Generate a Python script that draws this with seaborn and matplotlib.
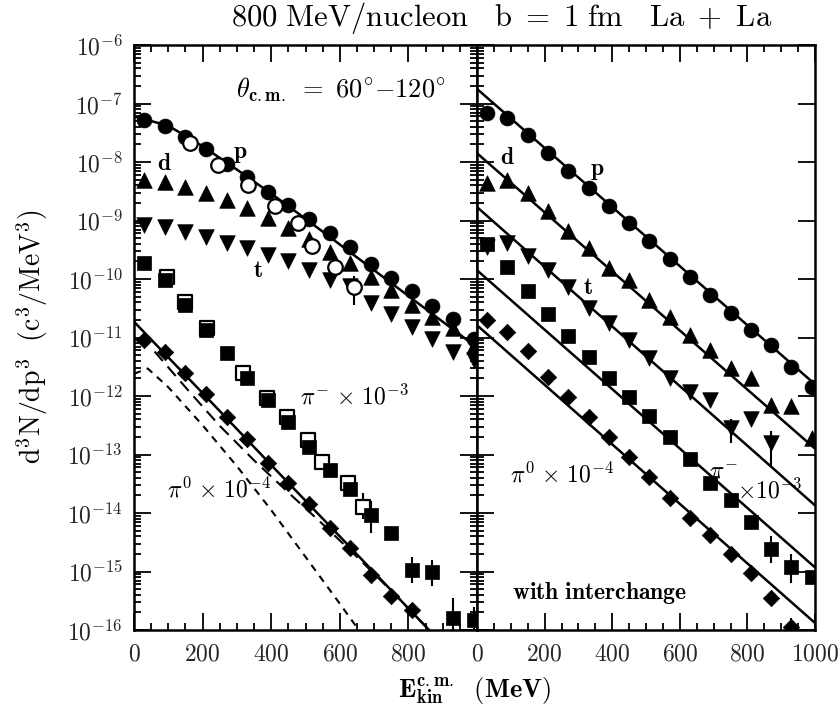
import matplotlib
matplotlib.use("Agg")
import numpy as np
import pandas as pd
import matplotlib.pyplot as plt
import seaborn as sns
from matplotlib.ticker import MultipleLocator, LogLocator, FuncFormatter, NullFormatter

# ---------------- data (log10 of d3N/dp3) ----------------
E_bins = [30, 90, 150, 210, 270, 330, 390, 450, 510, 570, 630, 690, 750, 810, 870, 930, 990]

# left panel (without interchange)
p_left = [-7.28, -7.38, -7.57, -7.78, -8.03, -8.26, -8.51, -8.74, -8.98, -9.22, -9.46, -9.74, -9.99, -10.21, -10.46, -10.69, -11.03]
d_left = [-8.31, -8.34, -8.43, -8.53, -8.65, -8.79, -8.96, -9.13, -9.31, -9.53, -9.72, -9.97, -10.19, -10.44, -10.65, -10.83, -11.15]
t_left = [-9.08, -9.11, -9.20, -9.28, -9.38, -9.47, -9.59, -9.69, -9.85, -10.02, -10.12, -10.41, -10.60, -10.82, -11.03, -11.25, -11.38]
pim_left = [-9.73, -10.02, -10.44, -10.87, -11.26, -11.69, -12.07, -12.45, -12.87, -13.26, -13.59, -14.03, -14.34, -14.97, -15.01, -15.79, -15.83]
pi0_left = [-11.04, -11.24, -11.60, -11.96, -12.36, -12.73, -13.15, -13.49, -13.84, -14.26, -14.59, -15.06, -15.42, -15.66]

p_exp_E = [163, 245, 333, 412, 479, 520, 587, 640]
p_exp = [-7.68, -8.05, -8.39, -8.75, -9.04, -9.43, -9.79, -10.14]
pim_exp_E = [96, 150, 213, 318, 388, 447, 508, 549, 625, 669]
pim_exp = [-9.97, -10.40, -10.84, -11.61, -12.03, -12.36, -12.75, -13.13, -13.49, -13.90]

p_fit_left_E = [0, 100, 200, 300, 400, 500, 600, 700, 800, 900, 1000]
p_fit_left = [-7.22, -7.38, -7.73, -8.13, -8.54, -8.97, -9.41, -9.85, -10.29, -10.73, -11.17]
pi0_fit_E = [0, 200, 400, 600, 800, 880]
pi0_fit = [-10.73, -11.95, -13.18, -14.40, -15.63, -16.12]
pi0_long_E = [60, 150, 250, 350, 450, 550, 650, 750, 870]
pi0_long = [-11.24, -11.85, -12.51, -13.10, -13.65, -14.19, -14.75, -15.33, -16.06]
pi0_short_E = [0, 40, 100, 200, 300, 400, 500, 600, 665]
pi0_short = [-11.62, -11.53, -11.85, -12.50, -13.20, -13.95, -14.75, -15.55, -16.08]

# left error bars: (E, low, high)
err_left_E = [640, 690, 810, 870, 930, 990, 625, 669]
err_left_lo = [-10.45, -14.35, -15.20, -15.25, -16.00, -16.00, -13.65, -14.10]
err_left_hi = [-9.95, -13.80, -14.75, -14.80, -15.45, -15.60, -13.35, -13.66]

# right panel (with interchange)
p_right = [-7.17, -7.25, -7.54, -7.84, -8.15, -8.44, -8.75, -9.04, -9.35, -9.66, -9.97, -10.27, -10.58, -10.87, -11.13, -11.50, -11.85]
d_right = [-8.36, -8.31, -8.53, -8.84, -9.18, -9.47, -9.81, -10.02, -10.36, -10.65, -10.96, -11.21, -11.52, -11.69, -12.15, -12.17, -12.72]
t_right = [-9.45, -9.38, -9.60, -9.85, -10.14, -10.50, -10.75, -11.04, -11.35, -11.69, -11.93, -12.07, -12.55, -12.40, -12.80]
pim_right = [-9.40, -9.79, -10.20, -10.60, -10.98, -11.33, -11.69, -12.01, -12.35, -12.70, -13.07, -13.48, -13.77, -14.16, -14.62, -14.93, -15.10]
pi0_right = [-10.70, -10.90, -11.23, -11.68, -12.02, -12.36, -12.70, -13.04, -13.38, -13.74, -14.09, -14.38, -14.70, -15.03, -15.45, -15.95]

fit_E_right = [0, 1000]
p_fit_right = [-6.75, -11.80]
d_fit_right = [-7.85, -12.90]
t_fit_right = [-8.77, -13.87]
pim_fit_right = [-9.85, -14.93]
pi0_fit_right = [-10.79, -15.88]

err_right_E = [750, 870, 870, 930, 930]
err_right_lo = [-12.80, -13.20, -14.85, -15.20, -16.10]
err_right_hi = [-12.40, -12.60, -14.40, -14.70, -15.80]

# ---------------- style ----------------
sns.set_theme(style="ticks")
plt.rcParams["font.family"] = ["DejaVu Serif"]
plt.rcParams["mathtext.fontset"] = "cm"
plt.rcParams["axes.linewidth"] = 1.8

W, H = 840, 715
fig = plt.figure(figsize=(W / 100, H / 100), dpi=100)
bottom = 1 - 630 / H
height = 585 / H
axL = fig.add_axes([134 / W, bottom, 343 / W, height])
axR = fig.add_axes([477 / W, bottom, 338 / W, height])

def v(a):
    return np.power(10.0, np.asarray(a, dtype=float))

def scatter(ax, x, y, marker, s, face="black", edge="black", lw=0.5, z=3):
    df = pd.DataFrame({"E": x, "y": v(y)})
    sns.scatterplot(data=df, x="E", y="y", marker=marker, s=s, color=face,
                    edgecolor=edge, linewidth=lw, ax=ax, zorder=z, legend=False)

def line(ax, x, y, ls="-", lw=1.8):
    df = pd.DataFrame({"E": x, "y": v(y)})
    sns.lineplot(data=df, x="E", y="y", color="black", lw=lw, ls=ls, ax=ax,
                 estimator=None, sort=False, legend=False, zorder=2)

for ax in (axL, axR):
    ax.set_yscale("log")

n0 = len(pi0_left)
# left panel
line(axL, p_fit_left_E, p_fit_left)
line(axL, pi0_fit_E, pi0_fit)
line(axL, pi0_long_E, pi0_long, ls=(0, (6, 3.5)), lw=1.5)
line(axL, pi0_short_E, pi0_short, ls=(0, (3.5, 3)), lw=1.5)
axL.vlines(err_left_E, v(err_left_lo), v(err_left_hi), color="black", lw=1.5, zorder=2)
scatter(axL, pim_exp_E, pim_exp, "s", 95, face="white", lw=1.6, z=3)
scatter(axL, E_bins, pim_left, "s", 95, z=4)
scatter(axL, E_bins, p_left, "o", 115, z=4)
scatter(axL, E_bins, d_left, "^", 125, z=4)
scatter(axL, E_bins, t_left, "v", 125, z=4)
scatter(axL, E_bins[:n0], pi0_left, "D", 70, z=4)
scatter(axL, p_exp_E, p_exp, "o", 110, face="white", lw=1.6, z=5)

# right panel
for fy in (p_fit_right, d_fit_right, t_fit_right, pim_fit_right, pi0_fit_right):
    line(axR, fit_E_right, fy)
axR.vlines(err_right_E, v(err_right_lo), v(err_right_hi), color="black", lw=1.5, zorder=2)
scatter(axR, E_bins, p_right, "o", 115, z=4)
scatter(axR, E_bins, d_right, "^", 125, z=4)
scatter(axR, E_bins[:len(t_right)], t_right, "v", 125, z=4)
scatter(axR, E_bins, pim_right, "s", 95, z=4)
scatter(axR, E_bins[:len(pi0_right)], pi0_right, "D", 70, z=4)

def fmt(val, pos):
    e = int(round(np.log10(val)))
    return r"$\mathbf{10^{%d}}$" % e

for ax in (axL, axR):
    ax.set_xlim(0, 1000)
    ax.set_ylim(1e-16, 1e-6)
    ax.set_xlabel("")
    ax.set_ylabel("")
    ax.xaxis.set_major_locator(MultipleLocator(200))
    ax.xaxis.set_minor_locator(MultipleLocator(50))
    ax.yaxis.set_major_locator(LogLocator(base=10, numticks=20))
    ax.yaxis.set_minor_locator(LogLocator(base=10, subs=np.arange(2, 10), numticks=20))
    ax.yaxis.set_minor_formatter(NullFormatter())
    ax.tick_params(which="both", direction="in", top=True, right=True, width=1.3, labelsize=17, color="black")
    ax.tick_params(which="major", length=12)
    ax.tick_params(which="minor", length=5)
    ax.tick_params(axis="x", pad=9)
    ax.tick_params(axis="y", pad=8)
    for s in ax.spines.values():
        s.set_visible(True)
        s.set_color("black")

axL.yaxis.set_major_formatter(FuncFormatter(fmt))
axL.xaxis.set_major_formatter(FuncFormatter(lambda x, p: r"$\mathbf{%d}$" % x if x < 1000 else ""))
axR.xaxis.set_major_formatter(FuncFormatter(lambda x, p: r"$\mathbf{%d}$" % x))
axR.yaxis.set_major_formatter(NullFormatter())
axR.tick_params(axis="y", which="minor", right=False)

# annotations
tk = dict(color="black", fontsize=17)
axL.text(604, v(-6.77), r"$\theta_{\mathbf{c.m.}}\ \mathbf{=\ 60^{\circ}{-}120^{\circ}}$", ha="center", va="center",
         color="black", fontsize=19)
axL.text(309, v(-7.85), r"$\mathbf{p}$", ha="center", va="center", **tk)
axL.text(90, v(-8.02), r"$\mathbf{d}$", ha="center", va="center", **tk)
axL.text(362, v(-9.85), r"$\mathbf{t}$", ha="center", va="center", **tk)
axL.text(485, v(-12.02), r"$\pi^{-}\ \mathbf{\times\ 10^{-3}}$", ha="left", va="center", **tk)
axL.text(96, v(-13.6), r"$\pi^{0}\ \mathbf{\times\ 10^{-4}}$", ha="left", va="center", **tk)

axR.text(355, v(-8.14), r"$\mathbf{p}$", ha="center", va="center", **tk)
axR.text(89, v(-7.93), r"$\mathbf{d}$", ha="center", va="center", **tk)
axR.text(328, v(-10.14), r"$\mathbf{t}$", ha="center", va="center", **tk)
axR.text(728, v(-13.3), r"$\pi^{-}$", ha="center", va="center", **tk)
axR.text(769, v(-13.62), r"$\mathbf{\times 10^{-3}}$", ha="left", va="center", **tk)
axR.text(98, v(-13.35), r"$\pi^{0}\ \mathbf{\times\ 10^{-4}}$", ha="left", va="center", **tk)
axR.text(104, v(-15.37), r"$\mathbf{with\ interchange}$", ha="left", va="center", **tk)

fig.text(502 / W, 1 - 18 / H, r"$\mathrm{800\ MeV/nucleon\quad b\ =\ 1\ fm\quad La\ +\ La}$",
         ha="center", va="center", fontsize=22, color="black")
fig.text(475 / W, 1 - 690 / H, r"$\mathbf{E_{kin}^{c.m.}\ \ (MeV)}$", ha="center", va="center",
         fontsize=19, color="black")
fig.text(32 / W, 1 - 337 / H, r"$\mathrm{d^3N/dp^3\ \ (c^3/MeV^3)}$", ha="center", va="center",
         rotation=90, fontsize=20, color="black")

fig.savefig("out.png", dpi=100)
